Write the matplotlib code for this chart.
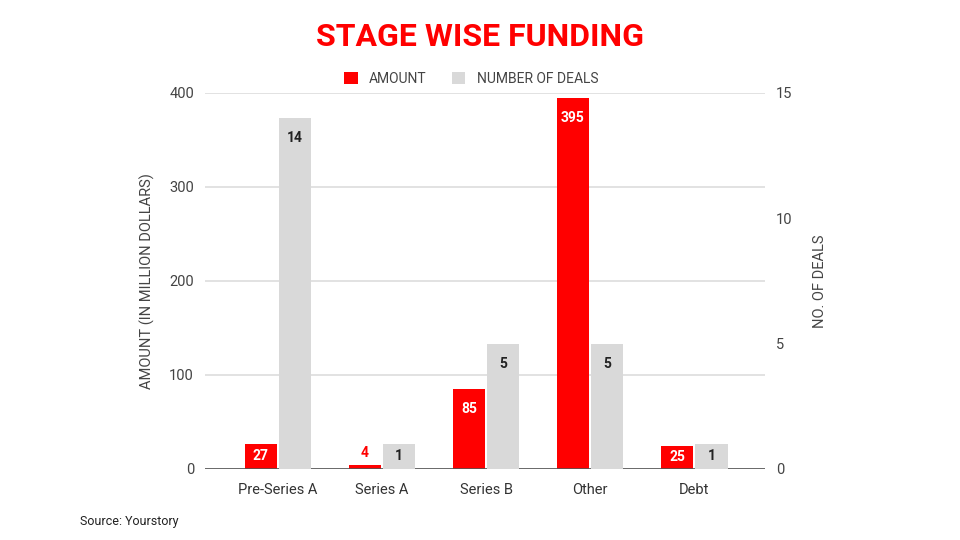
import matplotlib
matplotlib.use("Agg")
import matplotlib.pyplot as plt
from matplotlib.patches import Patch

categories = ["Pre-Series A", "Series A", "Series B", "Other", "Debt"]
amount = [27, 4, 85, 395, 25]
deals = [14, 1, 5, 5, 1]

RED = "#ff0000"
GREY = "#d9d9d9"
TXT = "#444444"

plt.rcParams["font.family"] = ["Roboto", "DejaVu Sans"]

fig = plt.figure(figsize=(9.6, 5.4), dpi=100)
ax = fig.add_axes([205 / 960, 1 - 469 / 540, 560 / 960, 376 / 540])
ax2 = ax.twinx()

x = list(range(len(categories)))
w = 0.31
gap = 0.02
ax.bar([i - w / 2 - gap / 2 for i in x], amount, width=w, color=RED, zorder=3)
ax2.bar([i + w / 2 + gap / 2 for i in x], deals, width=w, color=GREY, zorder=3)

ax.set_xlim(-0.7, 4.68)
ax.set_ylim(0, 400)
ax2.set_ylim(0, 15)
ax.set_yticks([0, 100, 200, 300, 400])
ax2.set_yticks([0, 5, 10, 15])
ax.set_xticks(x)
ax.set_xticklabels(categories)

ax.grid(axis="y", color="#dddddd", linewidth=1.2, zorder=0)
ax.set_axisbelow(True)
for a in (ax, ax2):
    for s in a.spines.values():
        s.set_visible(False)
    a.tick_params(length=0, labelsize=10.5, colors=TXT)
ax.tick_params(axis="x", pad=10, labelsize=10.5, colors="#333333")
ax.tick_params(axis="y", pad=8)
ax2.tick_params(axis="y", pad=8)
ax.axhline(0, color="#555555", linewidth=1.2, zorder=4)

ax.set_ylabel("AMOUNT (IN MILLION DOLLARS)", fontsize=10.5, color=TXT, labelpad=10)
ax2.set_ylabel("NO. OF DEALS", fontsize=10.5, color=TXT, labelpad=15)
ax2.yaxis.set_label_position("right")

PLOT_PX = 376


def label_bars(axis, xs, vals, ymax, inside_color, small_color):
    for xi, v in zip(xs, vals):
        h_px = v / ymax * PLOT_PX
        if h_px < 15:
            axis.annotate(str(v), (xi, v), xytext=(0, 9), textcoords="offset points",
                          ha="center", va="center", fontsize=10, fontweight="bold",
                          color=small_color, zorder=5)
        else:
            off = -min(20, h_px / 2) * 0.72
            axis.annotate(str(v), (xi, v), xytext=(0, off), textcoords="offset points",
                          ha="center", va="center", fontsize=10, fontweight="bold",
                          color=inside_color, zorder=5)


label_bars(ax, [i - w / 2 - gap / 2 for i in x], amount, 400, "white", RED)
label_bars(ax2, [i + w / 2 + gap / 2 for i in x], deals, 15, "#222222", "#222222")

fig.text(0.5, 1 - 37 / 540, "STAGE WISE FUNDING", ha="center", va="center",
         fontsize=23, fontweight="bold", color=RED)

handles = [Patch(facecolor=RED, edgecolor="none"), Patch(facecolor=GREY, edgecolor="none")]
fig.legend(handles, ["AMOUNT", "NUMBER OF DEALS"], loc="center",
           bbox_to_anchor=(471 / 960, 1 - 79 / 540), ncol=2, frameon=False,
           fontsize=10, handlelength=1.0, handleheight=1.0, columnspacing=1.8,
           handletextpad=0.8, labelcolor=TXT)

fig.text(80 / 960, 1 - 522 / 540, "Source: Yourstory", ha="left", va="center",
         fontsize=9, color="#222222")

fig.savefig("out.png", dpi=100)
